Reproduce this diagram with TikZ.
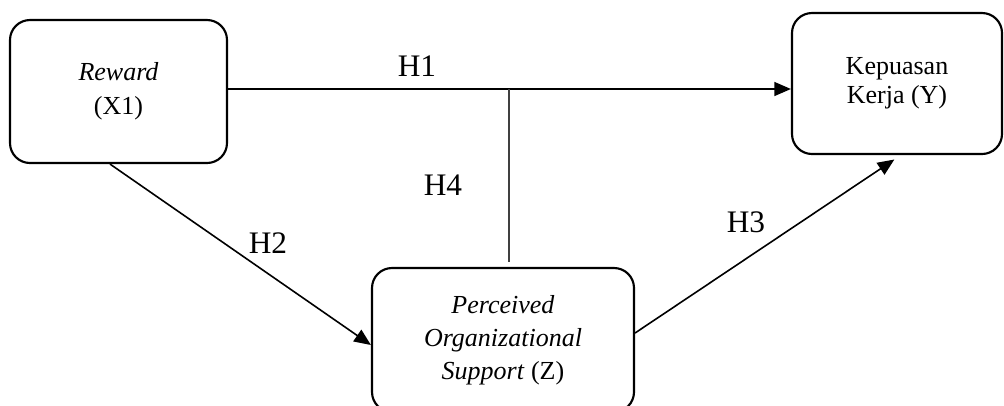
\documentclass[tikz,border=0pt]{standalone}
\usepackage{fontspec}
\setmainfont{Liberation Serif}
\usetikzlibrary{arrows.meta}
\begin{document}
\begin{tikzpicture}[x=0.75pt,y=-0.75pt,
  box/.style={draw, line width=1.6pt, rounded corners=15pt, inner sep=0pt, align=center, font=\fontsize{19.5}{25.5}\selectfont},
  arr/.style={line width=1.2pt, -{Triangle[length=12.5pt,width=10.5pt]}},
  plain/.style={line width=1.1pt, draw=black!75},
  hlab/.style={font=\fontsize{23.5}{27}\selectfont, inner sep=0pt}]
\useasboundingbox (0,0) rectangle (1004,405);
\node[box, minimum width=162.75pt, minimum height=107.25pt] (R) at (118.5,91.5) {\textit{Reward}\\(X1)};
\node[box, minimum width=157.5pt, minimum height=105.75pt, font=\fontsize{19.5}{21.75}\selectfont] (K) at (897,83.5) {Kepuasan\\Kerja (Y)};
\node[box, minimum width=196.5pt, minimum height=108pt, font=\fontsize{19.5}{24.75}\selectfont] (P) at (503,340) {\textit{Perceived}\\\textit{Organizational}\\\textit{Support} (Z)};
\coordinate (j) at (509,89);
\coordinate (v) at (509,262);
\draw[arr] (R.east |- j) -- (K.west |- j);
\draw[plain] (j) -- (v);
\draw[arr] (R.south -| 110,0) -- (P.west |- 0,345);
\draw[arr, shorten >=6pt] (P.east |- 0,333) -- (K.south -| 901,0);
\node[hlab] (h1) at (417,66) {H1};
\node[hlab] (h2) at (268,243) {H2};
\node[hlab] (h3) at (746,222) {H3};
\node[hlab] (h4) at (443,185) {H4};
\end{tikzpicture}
\end{document}
